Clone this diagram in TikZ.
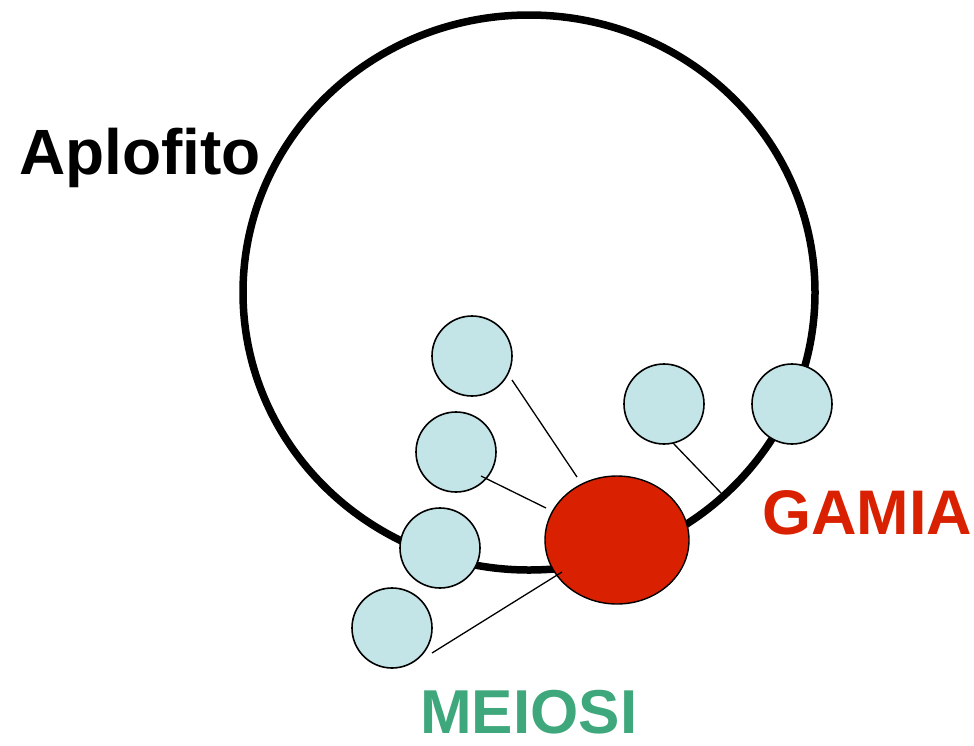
\documentclass[tikz,border=0pt]{standalone}
\usepackage{fontspec}
\setmainfont{Liberation Sans}
\usepackage{tikz}
\usetikzlibrary{shapes.geometric}

\begin{document}
\begin{tikzpicture}[x=1pt,y=-1pt,
			spore/.style={circle,draw,line width=1.6pt,fill=sporeblue,minimum size=80pt,inner sep=0pt},
			label text/.style={anchor=base west,inner sep=0pt,font=\bfseries\fontsize{64}{64}\selectfont},
			link/.style={line width=1.3pt}]
			\definecolor{sporeblue}{HTML}{C4E5E8}
			\definecolor{gamred}{HTML}{D92000}
			\definecolor{meigreen}{HTML}{3EA77B}
			\useasboundingbox (0,0) rectangle (974,745);
			\node[ellipse,draw,line width=7.5pt,minimum width=572pt,minimum height=555pt,inner sep=0pt] (plant) at (529,292.5) {};
			\node[spore] (s1) at (472,356) {};
			\node[spore] (s2) at (456,452) {};
			\node[spore] (s3) at (440,548) {};
			\node[spore] (s4) at (392,628) {};
			\node[spore] (s5) at (664,404) {};
			\node[spore] (s6) at (792,404) {};
			\node[ellipse,draw,line width=1.4pt,fill=gamred,minimum width=144pt,minimum height=128pt,inner sep=0pt] (gam) at (617,540) {};
			\node[label text] (apl) at (19,174) {Aplofito};
			\node[label text,text=gamred,font=\bfseries\fontsize{63}{63}\selectfont] (gamia) at (762,534) {GAMIA};
			\node[label text,text=meigreen,font=\bfseries\fontsize{62}{62}\selectfont] (meiosi) at (420,733) {MEIOSI};
			\coordinate (a1) at (512,380); \coordinate (b1) at (577,477);
			\coordinate (a2) at (481,476); \coordinate (b2) at (546,508);
			\coordinate (a3) at (432,653); \coordinate (b3) at (562,572);
			\coordinate (a4) at (673,443); \coordinate (b4) at (721,493);
			\draw[link] (a1) -- (b1);
			\draw[link] (a2) -- (b2);
			\draw[link] (a3) -- (b3);
			\draw[link] (a4) -- (b4);
		\end{tikzpicture}
\end{document}
